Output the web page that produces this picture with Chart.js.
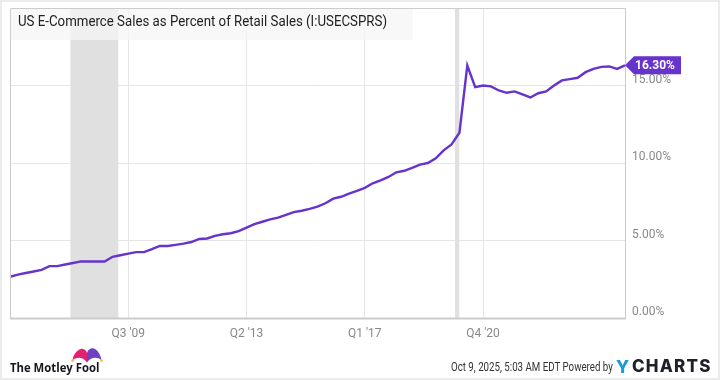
<!DOCTYPE html>
<html>
<head>
<meta charset="utf-8">
<script src="https://cdn.jsdelivr.net/npm/chart.js@4"></script>
<style>
  html, body { margin: 0; padding: 0; background: #fff; }
  #wrap { position: relative; width: 720px; height: 380px; overflow: hidden; font-family: Roboto, sans-serif; }
  #wrap canvas { position: absolute; left: 0; top: 0; }
  #frame { position: absolute; left: 0; top: 0; width: 716px; height: 376px; border: 2px solid #ececec; pointer-events: none; }
  .foot { position: absolute; white-space: nowrap; transform-origin: left center; }
  #fool { left: 10px; top: 358px; font: 700 13px "Open Sans", sans-serif; color: #16161d; transform: scaleX(0.87); }
  #stamp { left: 451px; top: 360px; font-size: 12px; color: #333; transform: scaleX(0.81); }
  #ychartsY { left: 616px; top: 356px; font: 800 17.5px Inter, sans-serif; color: #1b9ad6; }
  #ycharts { left: 632px; top: 356px; font: 800 17px Inter, sans-serif; color: #1d2129; letter-spacing: 1.2px; }
  #hat { position: absolute; left: 70px; top: 346px; }
</style>
</head>
<body>
<div id="wrap">
  <canvas id="chart" width="720" height="380"></canvas>
  <div id="frame"></div>
  <svg id="hat" width="34" height="20" viewBox="0 0 34 20">
    <path d="M2.5 14 C4 6 10 2 13 3 C15 3.5 16.5 5 17 7 L17 16.5 C14 12 8 10 2.5 14 Z" fill="#e5206f"/>
    <path d="M31.5 14 C30 6 25 1.5 21 2.5 C19 3 17.5 5 17 7 L17 16.5 C20 12 26 10 31.5 14 Z" fill="#6f3fc4"/>
    <circle cx="2.5" cy="14.5" r="1.3" fill="#f5b335"/>
    <circle cx="31.5" cy="14.5" r="1.3" fill="#f5b335"/>
  </svg>
  <div class="foot" id="fool">The Motley Fool</div>
  <div class="foot" id="stamp">Oct 9, 2025, 5:03 AM EDT Powered by</div>
  <div class="foot" id="ychartsY">Y</div>
  <div class="foot" id="ycharts">CHARTS</div>
</div>
<script>
// quarters counted from Q4 '05, last one is Q2 '25
const quarterIndex = [
  0, 1, 2, 3, 4, 5, 6, 7, 8, 9,
  10, 11, 12, 13, 14, 15, 16, 17, 18, 19,
  20, 21, 22, 23, 24, 25, 26, 27, 28, 29,
  30, 31, 32, 33, 34, 35, 36, 37, 38, 39,
  40, 41, 42, 43, 44, 45, 46, 47, 48, 49,
  50, 51, 52, 53, 54, 55, 56, 57, 58, 59,
  60, 61, 62, 63, 64, 65, 66, 67, 68, 69,
  70, 71, 72, 73, 74, 75, 76, 77, 78
];
const ecommercePct = [
  2.66, 2.80, 2.90, 3.00, 3.10, 3.35, 3.35, 3.45, 3.55, 3.65,
  3.65, 3.65, 3.65, 3.95, 4.05, 4.15, 4.25, 4.25, 4.44, 4.65,
  4.65, 4.72, 4.80, 4.90, 5.10, 5.13, 5.30, 5.40, 5.47, 5.60,
  5.83, 6.05, 6.21, 6.36, 6.48, 6.66, 6.83, 6.92, 7.04, 7.18,
  7.40, 7.70, 7.82, 8.02, 8.20, 8.40, 8.69, 8.88, 9.10, 9.40,
  9.50, 9.69, 9.90, 10.00, 10.30, 10.82, 11.20, 11.95, 16.29, 14.89,
  15.00, 14.94, 14.68, 14.53, 14.62, 14.42, 14.23, 14.50, 14.62, 15.00,
  15.33, 15.41, 15.50, 15.86, 16.07, 16.20, 16.23, 16.07, 16.30
];
const xTickIndex = [15, 30, 45, 60];
const xTickLabels = ["Q3 '09", "Q2 '13", "Q1 '17", "Q4 '20"];
const yTickValues = [0, 5, 10, 15];
const recessionStart = [7.66, 56.44];
const recessionEnd = [13.73, 56.98];
const chartTitle = 'US E-Commerce Sales as Percent of Retail Sales (I:USECSPRS)';
const lastLabel = '16.30%';

const purple = '#6633cc';

const decorations = {
  id: 'decorations',
  // recession bands go under the line
  beforeDatasetsDraw(chart) {
    const { ctx, chartArea: a, scales: { x } } = chart;
    ctx.save();
    ctx.fillStyle = '#e0e0e0';
    recessionStart.forEach((s, i) => {
      const l = x.getPixelForValue(s);
      ctx.fillRect(l, a.top, x.getPixelForValue(recessionEnd[i]) - l, a.bottom - a.top);
    });
    ctx.restore();
  },
  afterDatasetsDraw(chart) {
    const { ctx, chartArea: a, scales: { x, y } } = chart;
    ctx.save();
    // plot frame
    ctx.strokeStyle = '#cccccc';
    ctx.lineWidth = 1;
    ctx.beginPath();
    ctx.moveTo(a.left + 0.5, a.bottom);
    ctx.lineTo(a.left + 0.5, a.top + 0.5);
    ctx.lineTo(a.right + 0.5, a.top + 0.5);
    ctx.lineTo(a.right + 0.5, a.bottom);
    ctx.stroke();
    ctx.lineWidth = 2;
    ctx.beginPath();
    ctx.moveTo(a.left, a.bottom + 0.5);
    ctx.lineTo(a.right + 1, a.bottom + 0.5);
    ctx.stroke();

    // title strip
    ctx.fillStyle = 'rgba(245,245,245,0.75)';
    ctx.fillRect(a.left + 1, a.top + 1, 402, 31);
    ctx.fillStyle = '#222';
    ctx.font = '15.5px Roboto, sans-serif';
    ctx.textBaseline = 'middle';
    ctx.fillText(chartTitle, 18, 22, 369);

    // last value tag
    const n = ecommercePct.length - 1;
    const tx = x.getPixelForValue(quarterIndex[n]);
    const ty = y.getPixelForValue(ecommercePct[n]);
    ctx.fillStyle = purple;
    ctx.beginPath();
    ctx.moveTo(tx, ty);
    ctx.lineTo(tx + 9, ty - 9);
    ctx.lineTo(tx + 56, ty - 9);
    ctx.lineTo(tx + 56, ty + 9);
    ctx.lineTo(tx + 9, ty + 9);
    ctx.closePath();
    ctx.fill();
    ctx.fillStyle = '#fff';
    ctx.font = '700 12px Roboto, sans-serif';
    ctx.fillText(lastLabel, tx + 10, ty + 0.5);
    ctx.restore();
  }
};

new Chart(document.getElementById('chart'), {
  type: 'line',
  data: {
    datasets: [{
      data: quarterIndex.map((q, i) => ({ x: q, y: ecommercePct[i] })),
      borderColor: purple,
      borderWidth: 2.4,
      pointRadius: 0,
      tension: 0,
      clip: false
    }]
  },
  options: {
    responsive: false,
    animation: false,
    layout: { padding: { left: 10, top: 8, right: 0, bottom: 0 } },
    plugins: { legend: { display: false }, tooltip: { enabled: false }, title: { display: false } },
    scales: {
      x: {
        type: 'linear',
        min: 0,
        max: 78,
        afterBuildTicks: (s) => { s.ticks = xTickIndex.map((v) => ({ value: v })); },
        afterFit: (s) => { s.height = 62; s.paddingLeft = 0; s.paddingRight = 0; },
        border: { display: false },
        grid: { color: '#e6e6e6', drawTicks: false },
        ticks: {
          autoSkip: false,
          maxRotation: 0,
          padding: 9,
          color: '#888',
          font: { family: 'Roboto', size: 12 },
          callback: (v) => xTickLabels[xTickIndex.indexOf(v)]
        }
      },
      y: {
        position: 'right',
        min: 0,
        max: 20,
        afterBuildTicks: (s) => { s.ticks = yTickValues.map((v) => ({ value: v })); },
        afterFit: (s) => { s.width = 95; s.paddingTop = 0; s.paddingBottom = 0; },
        border: { display: false },
        grid: { color: '#e6e6e6', drawTicks: false },
        ticks: {
          align: 'end',
          padding: 7,
          color: '#888',
          font: { family: 'Roboto', size: 12 },
          callback: (v) => v.toFixed(2) + '%'
        }
      }
    }
  },
  plugins: [decorations]
});
</script>
</body>
</html>
